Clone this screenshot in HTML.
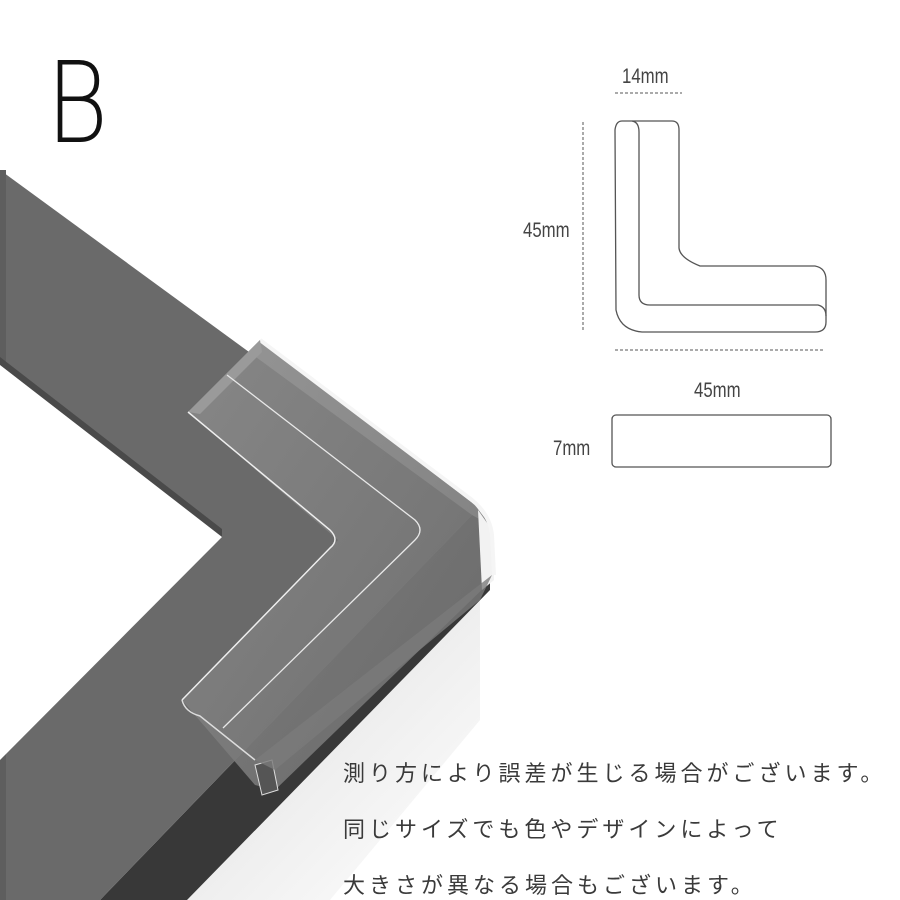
<!DOCTYPE html>
<html><head><meta charset="utf-8"><style>
html,body{margin:0;padding:0;background:#fff;}
body{width:900px;height:900px;overflow:hidden;position:relative;}
.jp{position:absolute;left:343px;font-family:"Noto Sans CJK JP",sans-serif;font-size:22px;letter-spacing:4px;color:#3a3a3a;white-space:nowrap;line-height:1;}
</style></head><body>
<svg width="900" height="900" viewBox="0 0 900 900" style="position:absolute;left:0;top:0">
<defs>
<linearGradient id="refl" x1="0" y1="0" x2="1" y2="1">
<stop offset="0" stop-color="#bdbdbd"/><stop offset="0.5" stop-color="#eeeeee"/><stop offset="1" stop-color="#fff"/>
</linearGradient>
<linearGradient id="pf" x1="0" y1="0" x2="1" y2="1">
<stop offset="0" stop-color="#8a8a8a"/><stop offset="1" stop-color="#6e6e6e"/>
</linearGradient>
</defs>
<text x="46" y="142" font-family="DejaVu Sans" font-weight="300" font-size="112" fill="#111" transform="translate(46,0) scale(0.85,1) translate(-46,0)">B</text>
<polygon points="480,600 480,720 330,900 187,900" fill="url(#refl)"/>
<polygon points="472,515 490,525 490,590 187,900 100,900" fill="#383838"/>
<polygon points="0,170 472,515 100,900 0,900" fill="#6a6a6a"/>
<rect x="0" y="170" width="6" height="730" fill="#5e5e5e"/>
<polygon points="0,357 222,529 222,537 0,365" fill="#4a4a4a"/>
<polygon points="0,365 222,537 0,760" fill="#fff"/>
<polygon points="260,340 475,505 490,525 492,580 275,790 255,785 182,700 338,540 188,412" fill="url(#pf)" opacity="0.9"/>
<polygon points="478,510 492,530 494,580 482,590" fill="#f2f2f2"/>
<path d="M260,340 L472,500 Q490,515 492,535 L494,575" fill="none" stroke="#f5f5f5" stroke-width="4"/>
<polygon points="188,412 260,340 262,352 200,414" fill="#9a9a9a"/>
<path d="M188,412 L330,530 Q340,540 330,548 L182,700" fill="none" stroke="#eee" stroke-width="1.5"/>
<path d="M227,375 L415,520 Q425,530 415,540 L223,728" fill="none" stroke="#e8e8e8" stroke-width="1.3"/>
<path d="M182,700 Q185,712 200,716 L255,760" fill="none" stroke="#ddd" stroke-width="1.5"/>
<polygon points="255,765 272,760 278,790 262,795" fill="#555" stroke="#ddd" stroke-width="1"/>
<polygon points="255,760 492,575 480,600 275,770" fill="#7a7a7a" opacity="0.8"/>
<g font-family="Liberation Sans, sans-serif" fill="#444">
<text x="622" y="83" font-size="21" transform="translate(622,0) scale(0.8,1) translate(-622,0)">14mm</text>
<text x="523" y="237" font-size="21" transform="translate(523,0) scale(0.8,1) translate(-523,0)">45mm</text>
<text x="694" y="397" font-size="21" transform="translate(694,0) scale(0.8,1) translate(-694,0)">45mm</text>
<text x="553" y="455" font-size="21" transform="translate(553,0) scale(0.8,1) translate(-553,0)">7mm</text>
</g>
<g stroke="#555" stroke-width="1" fill="none" stroke-dasharray="3,2">
<line x1="615" y1="93" x2="682" y2="93"/>
<line x1="583" y1="122" x2="583" y2="332"/>
<line x1="615" y1="350" x2="825" y2="350"/>
</g>
<g stroke="#555" stroke-width="1.3" fill="none">
<path d="M622,121 L672,121 Q679,121 679,130 L679,248 Q680,258 700,266 L815,266 Q826,268 826,280 L826,322 Q826,332 815,332 L642,332 Q620,330 616,310 L615,130 Q616,121 622,121 Z"/>
<path d="M632,121 Q639,122 639,132 L639,295 Q639,305 650,305 L818,305 Q826,307 826,316"/>
<rect x="612" y="415" width="219" height="52" rx="4"/>
</g>
</svg>
<div class="jp" style="top:761px">測り方により誤差が生じる場合がございます。</div>
<div class="jp" style="top:817px">同じサイズでも色やデザインによって</div>
<div class="jp" style="top:873px">大きさが異なる場合もございます。</div>
</body></html>
